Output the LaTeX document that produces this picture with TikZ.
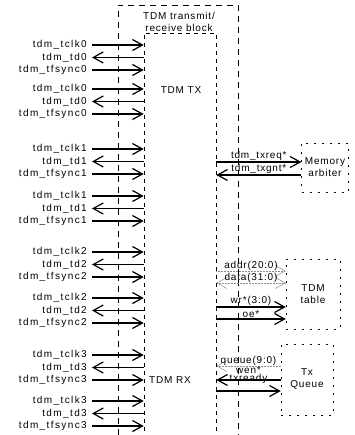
\documentclass[tikz,border=0pt]{standalone}
\usepackage{fontspec}
\setmainfont{Liberation Sans}[LetterSpace=8]
\newfontfamily\sigfont{Liberation Sans}[LetterSpace=14]
\usetikzlibrary{arrows.meta, calc}

\begin{document}
\begin{tikzpicture}[x=1pt, y=-1pt, >={Straight Barb[length=10pt, width=11pt]},
  every node/.style={font=\fontsize{10}{12}\selectfont},
  siglbl/.style={anchor=east, inner sep=0pt, font=\fontsize{10}{12}\sigfont},
  buslbl/.style={inner sep=0pt, text=black},
  edgeln/.style={line width=0.6pt, dash pattern=on 6pt off 5pt},
  blkbox/.style={draw, line width=0.6pt, dash pattern=on 4pt off 4pt, minimum width=72pt, minimum height=414pt},
  boxln/.style={draw, line width=0.5pt, dash pattern=on 2pt off 6pt, align=center},
  sigln/.style={line width=1.2pt},
  faintln/.style={line width=0.5pt, black!45, densely dotted}]
  \useasboundingbox (0,0) rectangle (354,435);

  % outer boundary
  \draw[edgeln] (118,435) -- (118,5) -- (238,5) -- (238,435);

  % transmit/receive block
  \node[blkbox] (tdmblk) at (180,240) {};
  \node[align=center] (blkttl) at (179,22) {TDM transmit/\\receive block};
  \node (txlbl) at (181,90) {TDM TX};
  \node (rxlbl) at (170,380) {TDM RX};

  % blocks on the right
  \node[boxln, minimum width=46pt, minimum height=49pt] (memarb) at (325,167.5) {Memory\\arbiter};
  \node[boxln, minimum width=54pt, minimum height=70pt] (tdmtab) at (313,294) {TDM\\table};
  \node[boxln, minimum width=52pt, minimum height=71pt] (txq) at (307,379.5) {Tx\\Queue};

  % TDM pins
  \foreach \gy/\n [count=\g] in {45/0, 89/0, 149/1, 196/1, 252/2, 298/2, 355/3, 401/3} {
    \node[siglbl] (clk\g) at (87,\gy) {tdm\_tclk\n};
    \node[siglbl] (dat\g) at (87,\gy+12.5) {tdm\_td\n};
    \node[siglbl] (fs\g) at (87,\gy+25) {tdm\_tfsync\n};
    \draw[sigln, ->] ([xshift=5pt]clk\g.east) -- (clk\g.east -| tdmblk.west);
    \draw[sigln, <-] ([xshift=5pt]dat\g.east) -- (dat\g.east -| tdmblk.west);
    \draw[sigln, ->] ([xshift=5pt]fs\g.east) -- (fs\g.east -| tdmblk.west);
  }

  % memory arbiter
  \draw[sigln, ->] (tdmblk.east |- 0,162) -- (memarb.west |- 0,162) node[midway, above=0.5pt, buslbl] (reqlbl) {tdm\_txreq*};
  \draw[sigln, <-] (tdmblk.east |- 0,175) -- (memarb.west |- 0,175) node[midway, above=0.5pt, buslbl] (gntlbl) {tdm\_txgnt*};

  % TDM table
  \draw[faintln, ->] (tdmblk.east |- 0,271) -- (tdmtab.west |- 0,271) node[midway, above=0.5pt, buslbl] (addrlbl) {addr(20:0)};
  \draw[faintln, <->] (tdmblk.east |- 0,283) -- (tdmtab.west |- 0,283) node[midway, above=0.5pt, buslbl] (datalbl) {data(31:0)};
  \draw[sigln, ->] (tdmblk.east |- 0,307) -- (tdmtab.west |- 0,307) node[midway, above=0.5pt, buslbl] (wrlbl) {wr*(3:0)};
  \draw[sigln, ->] (tdmblk.east |- 0,319) -- (tdmtab.west |- 0,319) node[midway, above=0.5pt, buslbl] (oelbl) {oe*};

  % Tx queue
  \draw[faintln, <-] (tdmblk.east |- 0,366) -- (txq.west |- 0,366) node[midway, above=0.5pt, buslbl] (qlbl) {queue(9:0)};
  \draw[sigln, <-] (tdmblk.east |- 0,380) -- (txq.west |- 0,380) node[midway, above=6pt, buslbl] (wenlbl) {wen*};
  \draw[sigln, ->] (tdmblk.east |- 0,391) -- (txq.west |- 0,391) node[midway, above=6.5pt, buslbl] (rdylbl) {txready};
\end{tikzpicture}
\end{document}
